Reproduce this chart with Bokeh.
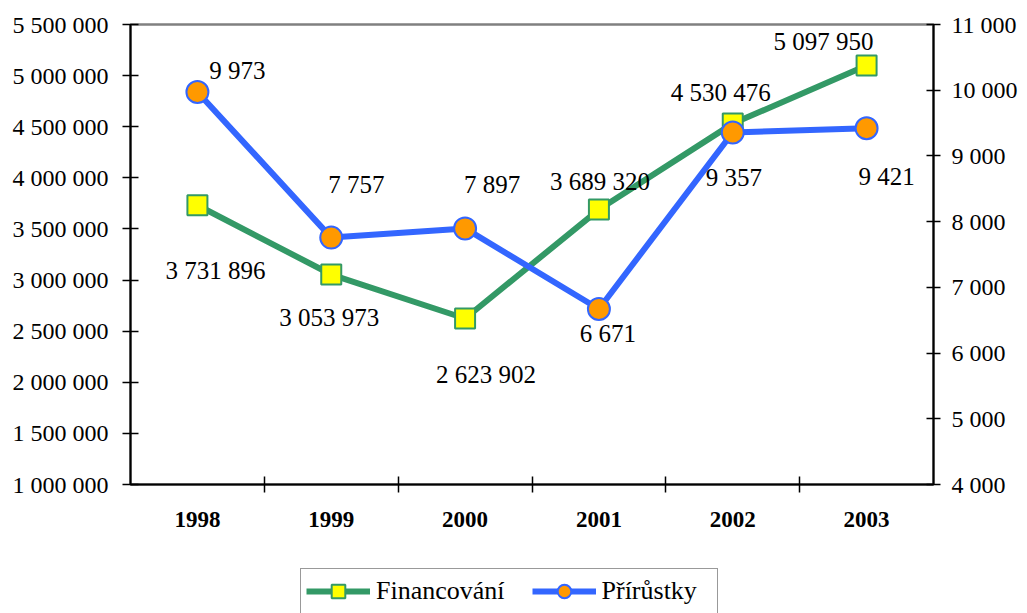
from bokeh.plotting import figure
from bokeh.layouts import column
from bokeh.models import (Range1d, LinearAxis, FixedTicker, SingleIntervalTicker,
                          CustomJSTickFormatter, ColumnDataSource, Legend, LegendItem)
from bokeh.core.properties import value
from bokeh.embed import file_html
from bokeh.resources import INLINE

# ---- data ----
years = ["1998", "1999", "2000", "2001", "2002", "2003"]
financovani = [3731896, 3053973, 2623902, 3689320, 4530476, 5097950]
prirustky = [9973, 7757, 7897, 6671, 9357, 9421]
series_names = ["Financování", "Přírůstky"]

# label offsets (screen px, y down positive)
fin_dx = [18, -2, 21, 1, -12, -43]
fin_dy = [65, 43, 56, -28, -31, -24]
prr_dx = [40, 25, 27, 9, 1, 20]
prr_dy = [-21, -53, -44, 25, 45, 48]

GREEN = "#339966"
BLUE = "#3366FF"
FONT = "Liberation Serif"


def fmt(v):
    return f"{v:,}".replace(",", " ")


xs = [i + 0.5 for i in range(len(years))]

src_f = ColumnDataSource(dict(x=xs, y=financovani, t=[fmt(v) for v in financovani],
                              dx=fin_dx, dy=fin_dy))
src_p = ColumnDataSource(dict(x=xs, y=prirustky, t=[fmt(v) for v in prirustky],
                              dx=prr_dx, dy=prr_dy))

p = figure(width=1020, height=560, x_range=Range1d(0, len(years)),
           y_range=Range1d(1000000, 5500000), output_backend="svg",
           toolbar_location=None, min_border_left=130, min_border_right=84,
           min_border_top=24, min_border_bottom=76)
p.extra_y_ranges = {"right": Range1d(4000, 11000)}
p.xgrid.visible = False
p.ygrid.visible = False
p.outline_line_color = "#808080"
p.outline_line_width = 2.5
p.background_fill_color = "white"
p.border_fill_color = "white"

formatter = CustomJSTickFormatter(code="return tick.toFixed(0).replace(/\\B(?=(\\d{3})+(?!\\d))/g, ' ');")

# bottom axis
xa = p.xaxis[0]
xa.ticker = FixedTicker(ticks=xs, minor_ticks=list(range(1, len(years))))
xa.major_label_overrides = {x: y for x, y in zip(xs, years)}
xa.major_tick_in = 0
xa.major_tick_out = 0
xa.minor_tick_in = 8
xa.minor_tick_out = 8
xa.minor_tick_line_color = "black"
xa.minor_tick_line_width = 1.5
xa.axis_line_color = "black"
xa.axis_line_width = 2
xa.major_label_text_font = FONT
xa.major_label_text_font_size = "23px"
xa.major_label_text_font_style = "bold"
xa.major_label_text_color = "black"
xa.major_label_standoff = 19

# left axis
ya = p.yaxis[0]
ya.ticker = SingleIntervalTicker(interval=500000, num_minor_ticks=0)
ya.formatter = formatter
ya.major_tick_in = 8
ya.major_tick_out = 8
ya.minor_tick_in = 0
ya.minor_tick_out = 0
ya.major_tick_line_color = "black"
ya.major_tick_line_width = 1.5
ya.axis_line_color = "black"
ya.axis_line_width = 2
ya.major_label_text_font = FONT
ya.major_label_text_font_size = "24px"
ya.major_label_text_color = "black"
ya.major_label_standoff = 14

# right axis
ra = LinearAxis(y_range_name="right",
                ticker=SingleIntervalTicker(interval=1000, num_minor_ticks=0),
                formatter=formatter)
ra.major_tick_in = 7
ra.major_tick_out = 7
ra.minor_tick_in = 0
ra.minor_tick_out = 0
ra.major_tick_line_color = "black"
ra.major_tick_line_width = 1.5
ra.axis_line_color = "black"
ra.axis_line_width = 2
ra.major_label_text_font = FONT
ra.major_label_text_font_size = "24px"
ra.major_label_text_color = "black"
ra.major_label_standoff = 11
p.add_layout(ra, "right")

line_f = dict(line_color=GREEN, line_width=6)
mark_f = dict(marker="square", fill_color="#FFFF00", line_color=GREEN, line_width=2)
line_p = dict(line_color=BLUE, line_width=6)
mark_p = dict(marker="circle", fill_color="#FF9900", line_color=BLUE, line_width=2)

# series
p.line("x", "y", source=src_f, **line_f)
p.scatter("x", "y", source=src_f, size=20, **mark_f)
p.line("x", "y", source=src_p, y_range_name="right", **line_p)
p.scatter("x", "y", source=src_p, size=22, y_range_name="right", **mark_p)

p.text("x", "y", text="t", source=src_f, x_offset="dx", y_offset="dy",
       text_align="center", text_baseline="middle", text_font=value(FONT),
       text_font_size="25px", text_color="black")
p.text("x", "y", text="t", source=src_p, x_offset="dx", y_offset="dy",
       text_align="center", text_baseline="middle", text_font=value(FONT),
       text_font_size="25px", text_color="black", y_range_name="right")

# legend strip (separate figure below the chart; series lie outside its view)
q = figure(width=1020, height=53, x_range=Range1d(-10, -9), y_range=Range1d(-10, -9),
           output_backend="svg", toolbar_location=None, min_border=0,
           x_axis_type=None, y_axis_type=None)
q.xgrid.visible = False
q.ygrid.visible = False
q.outline_line_color = None
q.background_fill_color = "white"
q.border_fill_color = "white"
qlf = q.line("x", "y", source=src_f, **line_f)
qmf = q.scatter("x", "y", source=src_f, **mark_f)
qlp = q.line("x", "y", source=src_p, **line_p)
qmp = q.scatter("x", "y", source=src_p, **mark_p)

legend = Legend(items=[LegendItem(label=series_names[0], renderers=[qlf, qmf]),
                       LegendItem(label=series_names[1], renderers=[qlp, qmp])],
                orientation="horizontal", location=(170, -1))
legend.glyph_width = 64
legend.glyph_height = 34
legend.padding = 5
legend.margin = 0
legend.spacing = 27
legend.label_standoff = 6
legend.label_width = 110
legend.label_text_font = FONT
legend.label_text_font_size = "26px"
legend.label_text_color = "black"
legend.border_line_color = "#333333"
legend.border_line_width = 1.5
legend.background_fill_color = "white"
q.add_layout(legend, "center")

layout = column(p, q, spacing=0)
open("out.html", "w").write(file_html(layout, INLINE))
